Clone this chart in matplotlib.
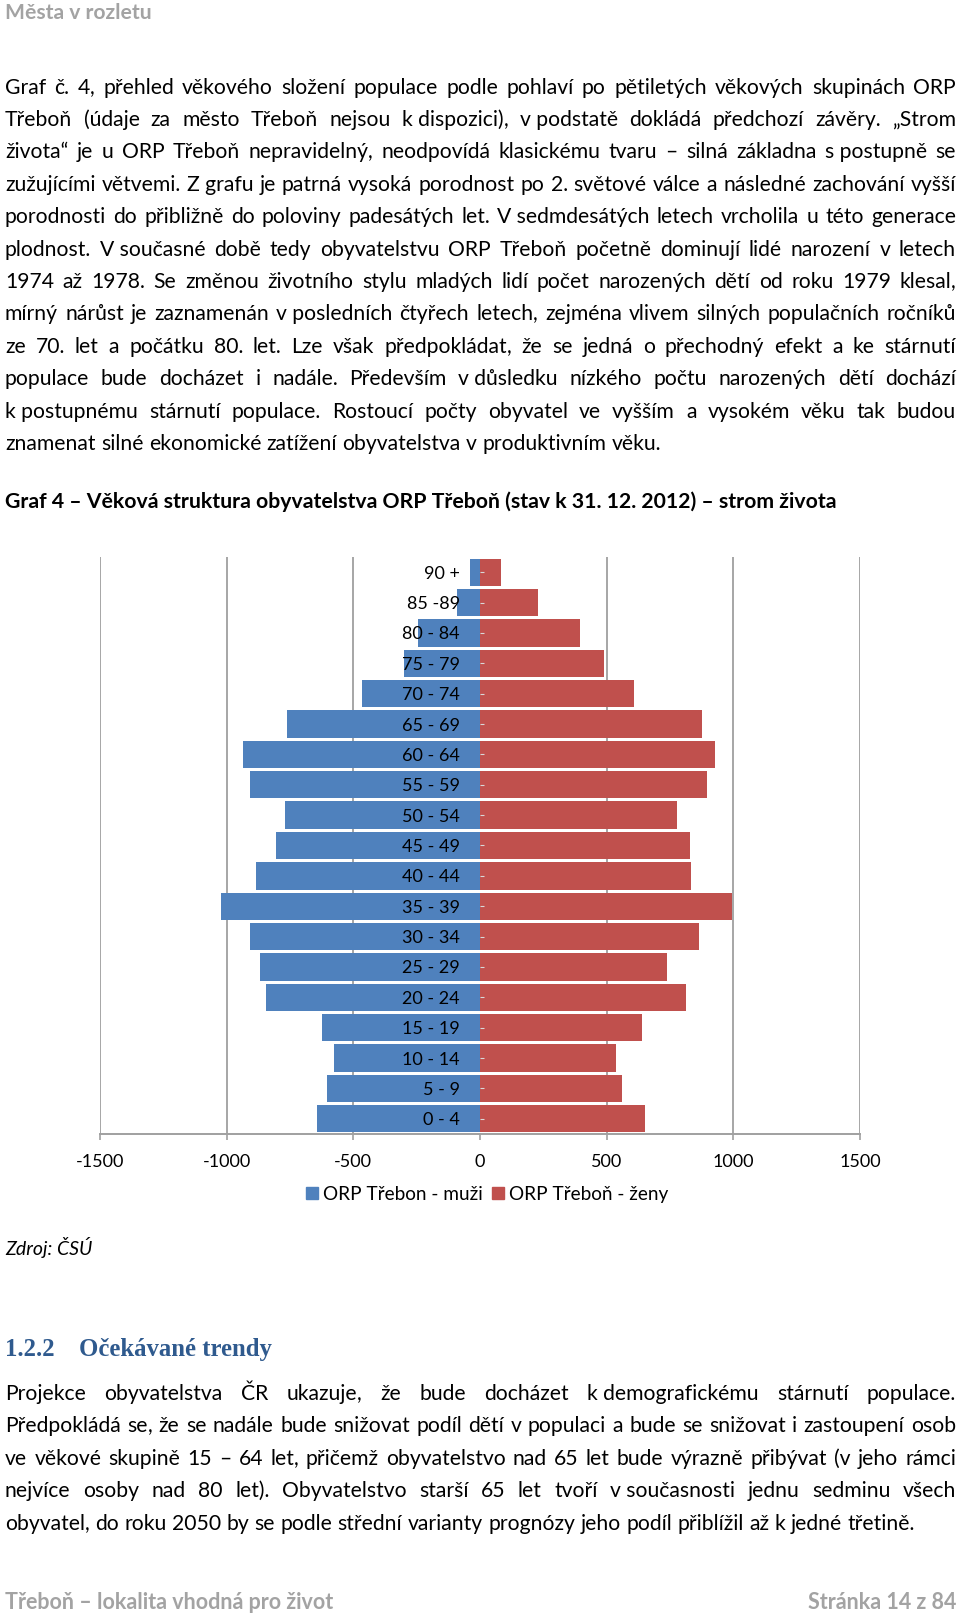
import matplotlib
matplotlib.use('Agg')
import matplotlib.pyplot as plt
from matplotlib.patches import Patch
import numpy as np

W, H = 960, 1617
SANS = 'Lato'
SERIF = 'Liberation Serif'
plt.rcParams['font.family'] = [SANS, 'DejaVu Sans']

# ---------------- data ----------------
age_groups = ['0 - 4', '5 - 9', '10 - 14', '15 - 19', '20 - 24', '25 - 29', '30 - 34',
              '35 - 39', '40 - 44', '45 - 49', '50 - 54', '55 - 59', '60 - 64', '65 - 69',
              '70 - 74', '75 - 79', '80 - 84', '85 -89', '90 +']
muzi = [645, 605, 575, 624, 843, 868, 906, 1024, 885, 805, 771, 909, 934, 760, 465, 300, 243, 92, 40]
zeny = [653, 561, 538, 641, 812, 739, 866, 996, 833, 829, 778, 897, 928, 876, 609, 489, 396, 229, 84]
x_ticks = [-1500, -1000, -500, 0, 500, 1000, 1500]
x_tick_labels = ['-1500', '-1000', '-500', '0', '500', '1000', '1500']
legend_labels = ['ORP Třebon - muži', 'ORP Třeboň - ženy']
colors = ['#4F81BD', '#C0504D']

NB = '\u00a0'
header_text = 'Města v rozletu'
para1_lines = [
    'Graf č. 4, přehled věkového složení populace podle pohlaví po pětiletých věkových skupinách ORP',
    'Třeboň (údaje za město Třeboň nejsou k' + NB + 'dispozici), v' + NB + 'podstatě dokládá předchozí závěry. „Strom',
    'života“ je u ORP Třeboň nepravidelný, neodpovídá klasickému tvaru – silná základna s' + NB + 'postupně se',
    'zužujícími větvemi. Z' + NB + 'grafu je patrná vysoká porodnost po 2. světové válce a následné zachování vyšší',
    'porodnosti do přibližně do poloviny padesátých let. V' + NB + 'sedmdesátých letech vrcholila u této generace',
    'plodnost. V' + NB + 'současné době tedy obyvatelstvu ORP Třeboň početně dominují lidé narození v letech',
    '1974 až 1978. Se změnou životního stylu mladých lidí počet narozených dětí od roku 1979 klesal,',
    'mírný nárůst je zaznamenán v' + NB + 'posledních čtyřech letech, zejména vlivem silných populačních ročníků',
    'ze 70. let a počátku 80. let. Lze však předpokládat, že se jedná o přechodný efekt a ke stárnutí',
    'populace bude docházet i nadále. Především v' + NB + 'důsledku nízkého počtu narozených dětí dochází',
    'k' + NB + 'postupnému stárnutí populace. Rostoucí počty obyvatel ve vyšším a vysokém věku tak budou',
    'znamenat silné ekonomické zatížení obyvatelstva v produktivním věku.',
]
chart_title = 'Graf 4 – Věková struktura obyvatelstva ORP Třeboň (stav k 31. 12. 2012) – strom života'
source_text = 'Zdroj: ČSÚ'
section_number = '1.2.2'
section_title = 'Očekávané trendy'
para2_lines = [
    'Projekce obyvatelstva ČR ukazuje, že bude docházet k' + NB + 'demografickému stárnutí populace.',
    'Předpokládá se, že se nadále bude snižovat podíl dětí v populaci a bude se snižovat i zastoupení osob',
    've věkové skupině 15 – 64 let, přičemž obyvatelstvo nad 65 let bude výrazně přibývat (v jeho rámci',
    'nejvíce osoby nad 80 let). Obyvatelstvo starší 65 let tvoří v' + NB + 'současnosti jednu sedminu všech',
    'obyvatel, do roku 2050 by se podle střední varianty prognózy jeho podíl přiblížil až k jedné třetině.',
]
footer_left = 'Třeboň – lokalita vhodná pro život'
footer_right = 'Stránka 14 z 84'

# ---------------- helpers ----------------
fig = plt.figure(figsize=(W / 100, H / 100), dpi=100)
fig.patch.set_facecolor('white')
renderer = fig.canvas.get_renderer()


def fx(x):
    return x / W


def fy(y):
    return 1 - y / H


def text_width(s, size, **kw):
    t = fig.text(0, 0, s, fontsize=size, **kw)
    w = t.get_window_extent(renderer=renderer).width
    t.remove()
    return w


def fit_size(s, target, **kw):
    return 20 * target / text_width(s, 20, **kw)


def put(x, y, s, size, ha='left', **kw):
    fig.text(fx(x), fy(y), s, fontsize=size, ha=ha, va='baseline', **kw)


def tokens(line):
    return [t.replace(NB, ' ') for t in line.split(' ')]


def space_w(size, **kw):
    return text_width('a a', size, **kw) - text_width('aa', size, **kw)


def natural_width(line, size, **kw):
    toks = tokens(line)
    return sum(text_width(t, size, **kw) for t in toks) + space_w(size, **kw) * (len(toks) - 1)


X0, X1 = 5, 956


def put_word(x, y, tok, w, size, **kw):
    # commas drawn separately so that every word keeps the same baseline
    if tok.endswith(',') and len(tok) > 1:
        put(x, y, tok[:-1], size, **kw)
        put(x + w, y, ',', size, ha='right', **kw)
    else:
        put(x, y, tok, size, **kw)


def draw_paragraph(lines, y0, dy, size, **kw):
    sp = space_w(size, **kw)
    for i, line in enumerate(lines):
        toks = tokens(line)
        ws = [text_width(t, size, **kw) for t in toks]
        last = (i == len(lines) - 1)
        gap = sp if (last or len(toks) == 1) else (X1 - X0 - sum(ws)) / (len(toks) - 1)
        x = X0
        yb = round(y0 + i * dy)
        for t, w in zip(toks, ws):
            put_word(x, yb, t, w, size, **kw)
            x += w + gap


# ---------------- text ----------------
gray = '#a3a3a3'
hs = fit_size(header_text, 147, fontweight='bold')
put(X0, 19, header_text, hs, fontweight='bold', color=gray)

justified = para1_lines[:-1] + para2_lines[:-1]
body_size = min(16 * (X1 - X0) / natural_width(l, 16) for l in justified) * 0.995
draw_paragraph(para1_lines, 93.5, 32.4, body_size, color='black')

ts = fit_size(chart_title, 831, fontweight='bold')
put(X0, 508, chart_title, ts, fontweight='bold', color='black')

zs = fit_size(source_text, 87, style='italic')
put(X0, 1255, source_text, zs, style='italic', color='black')

sec_kw = dict(fontweight='bold', family=SERIF)
ss = fit_size(section_title, 193, **sec_kw)
put(X0, 1356, section_number, ss, color='#2F5A8E', **sec_kw)
put(79, 1356, section_title, ss, color='#2F5A8E', **sec_kw)

draw_paragraph(para2_lines, 1400, 32.4, body_size, color='black')

fl = fit_size(footer_left, 328, fontweight='bold')
put(X0, 1609, footer_left, fl, fontweight='bold', color=gray)
put(X1, 1609, footer_right, fl, ha='right', fontweight='bold', color=gray)

# ---------------- chart ----------------
lab_size = fit_size('65 - 69', 58)
ax = fig.add_axes([100 / W, (H - 1134) / H, 760 / W, 577 / H])
ypos = np.arange(len(age_groups))
ax.barh(ypos, -np.array(muzi), height=0.9, color=colors[0], zorder=1)
ax.barh(ypos, zeny, height=0.9, color=colors[1], zorder=1)
for t in x_ticks:
    if t != 0:
        ax.axvline(t, color='#a6a6a6', lw=1.4, zorder=0.5)
ax.set_xlim(x_ticks[0], x_ticks[-1])
ax.set_ylim(-0.5, len(age_groups) - 0.5)
ax.set_xticks(x_ticks)
ax.set_xticklabels(x_tick_labels)
ax.set_yticks(ypos)
ax.set_yticklabels(age_groups)
for s in ['top', 'right']:
    ax.spines[s].set_visible(False)
ax.spines['left'].set_position(('data', 0))
ax.spines['left'].set_visible(False)
ax.spines['bottom'].set_color('#a0a0a0')
ax.spines['bottom'].set_linewidth(1.4)
ax.tick_params(axis='x', direction='out', length=4.5, width=1.2, color='#a0a0a0',
               pad=10, labelsize=lab_size, labelcolor='black')
ax.tick_params(axis='y', direction='in', length=3, width=0.8, color='#d8d8d8',
               pad=14.4, labelsize=lab_size, labelcolor='black')
ax.set_facecolor('none')

handles = [Patch(color=c) for c in colors]
fig.legend(handles, legend_labels, loc='center', bbox_to_anchor=(fx(487), fy(1194)),
           ncol=2, frameon=False, fontsize=lab_size * 1.05, handlelength=0.62, handleheight=0.62,
           handletextpad=0.25, columnspacing=0.5, borderaxespad=0, borderpad=0)

fig.savefig('out.png', dpi=100, facecolor='white')
